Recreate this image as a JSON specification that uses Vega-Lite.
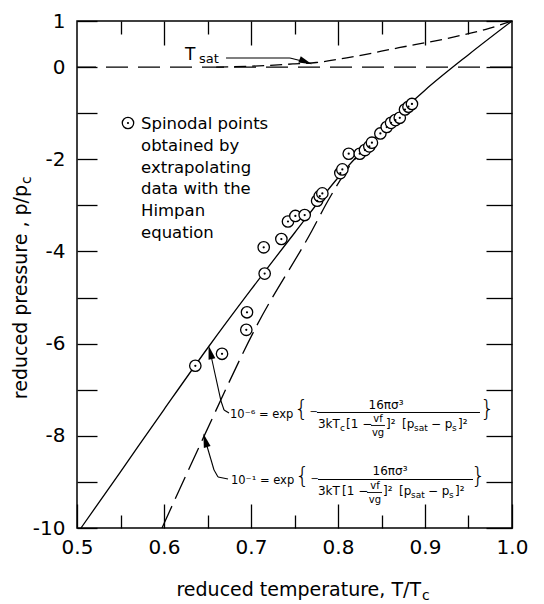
{
"$schema":"https://vega.github.io/schema/vega-lite/v6.json",
"width":435,"height":507,
"autosize":{"type":"none"},
"padding":{"left":77,"top":21,"right":32,"bottom":76},
"background":"white",
"data":{"values":[{}]},
"config":{
 "view":{"stroke":"black","strokeWidth":1.5},
 "font":"DejaVu Sans",
 "axis":{"domain":false,"grid":false,"tickColor":"black","tickWidth":1.3,"labelColor":"black","labelFont":"DejaVu Sans","labelFontSize":20,"labelFlush":false,"labelOverlap":false,"labelBound":false},
 "text":{"font":"DejaVu Sans","color":"black"}
},
"datasets":{
 "solid":[{"T":0.5046,"p":-10},{"T":0.55,"p":-8.78},{"T":0.6,"p":-7.43},{"T":0.65,"p":-6.1},{"T":0.7,"p":-4.83},{"T":0.75,"p":-3.6},{"T":0.8,"p":-2.4},{"T":0.85,"p":-1.38},{"T":0.9,"p":-0.5},{"T":0.95,"p":0.27},{"T":1.0,"p":1.0}],
 "dashed":[{"T":0.5977,"p":-10},{"T":0.645,"p":-8.05},{"T":0.7069,"p":-5.6},{"T":0.77,"p":-3.55},{"T":0.7885,"p":-2.9},{"T":0.8172,"p":-2.05},{"T":0.84,"p":-1.6},{"T":0.86,"p":-1.22}],
 "tsat":[{"T":0.66,"p":0.0},{"T":0.7,"p":0.02},{"T":0.75,"p":0.07},{"T":0.775,"p":0.1},{"T":0.81,"p":0.2},{"T":0.87,"p":0.42},{"T":0.93,"p":0.64},{"T":0.97,"p":0.82},{"T":1.0,"p":1.0}],
 "points":[{"T":0.636,"p":-6.48},{"T":0.6667,"p":-6.22},{"T":0.6946,"p":-5.7},{"T":0.6954,"p":-5.32},{"T":0.7157,"p":-4.48},{"T":0.7146,"p":-3.91},{"T":0.7349,"p":-3.73},{"T":0.7425,"p":-3.35},{"T":0.751,"p":-3.23},{"T":0.7617,"p":-3.21},{"T":0.776,"p":-2.9},{"T":0.779,"p":-2.8},{"T":0.782,"p":-2.74},{"T":0.8027,"p":-2.3},{"T":0.805,"p":-2.22},{"T":0.8123,"p":-1.88},{"T":0.825,"p":-1.88},{"T":0.831,"p":-1.8},{"T":0.836,"p":-1.72},{"T":0.839,"p":-1.64},{"T":0.8487,"p":-1.44},{"T":0.856,"p":-1.3},{"T":0.861,"p":-1.21},{"T":0.866,"p":-1.15},{"T":0.871,"p":-1.1},{"T":0.877,"p":-0.92},{"T":0.881,"p":-0.86},{"T":0.885,"p":-0.8}]
},
"layer":[
 {"mark":{"type":"rule","color":"black","strokeWidth":1.2,"strokeDash":[22,10]},
  "encoding":{"y":{"datum":0,"axis":null}}},
 {"data":{"name":"solid"},"mark":{"type":"line","color":"black","strokeWidth":1.3,"interpolate":"monotone"},
  "encoding":{
   "x":{"field":"T","type":"quantitative","scale":{"domain":[0.5,1.0],"nice":false,"zero":false},"axis":{"orient":"bottom","values":[0.5,0.6,0.7,0.8,0.9,1.0],"tickSize":-24,"labelPadding":33,"labelExpr":"format(datum.value,'.1f')","title":null}},
   "y":{"field":"p","type":"quantitative","scale":{"domain":[-10,1],"nice":false,"zero":false},"axis":{"orient":"left","values":[1,0,-1,-2,-3,-4,-5,-6,-7,-8,-9,-10],"tickSize":-20,"labelPadding":32,"labelExpr":"datum.value == 1 || datum.value % 2 == 0 ? ('' + datum.value) : ''","title":null}}}},
 {"data":{"name":"dashed"},"mark":{"type":"line","color":"black","strokeWidth":1.3,"interpolate":"monotone","strokeDash":[24,8]},
  "encoding":{
   "x":{"field":"T","type":"quantitative","scale":{"domain":[0.5,1.0],"nice":false,"zero":false},"axis":{"orient":"bottom","values":[0.55,0.65,0.75,0.85,0.95],"tickSize":-13,"labels":false,"title":null}},
   "y":{"field":"p","type":"quantitative","scale":{"domain":[-10,1],"nice":false,"zero":false},"axis":{"orient":"right","values":[1,0,-1,-2,-3,-4,-5,-6,-7,-8,-9,-10],"tickSize":-26,"labels":false,"title":null}}}},
 {"data":{"name":"tsat"},"mark":{"type":"line","color":"black","strokeWidth":1.3,"interpolate":"monotone","strokeDash":[12,6]},
  "encoding":{
   "x":{"field":"T","type":"quantitative","scale":{"domain":[0.5,1.0],"nice":false,"zero":false},"axis":{"orient":"top","values":[0.6,0.7,0.8,0.9],"tickSize":-24,"labels":false,"title":null}},
   "y":{"field":"p","type":"quantitative","axis":null}}},
 {"data":{"name":"points"},"mark":{"type":"point","shape":"circle","filled":false,"fill":"white","fillOpacity":1,"stroke":"black","strokeWidth":1.3,"size":130,"opacity":1},
  "encoding":{
   "x":{"field":"T","type":"quantitative","scale":{"domain":[0.5,1.0],"nice":false,"zero":false},"axis":{"orient":"top","values":[0.55,0.65,0.75,0.85,0.95],"tickSize":-13,"labels":false,"title":null}},
   "y":{"field":"p","type":"quantitative","axis":null}}},
 {"data":{"name":"points"},"mark":{"type":"point","shape":"circle","filled":true,"color":"black","size":5,"opacity":1},
  "encoding":{"x":{"field":"T","type":"quantitative","axis":null},"y":{"field":"p","type":"quantitative","axis":null}}},

 {"mark":{"type":"point","shape":"circle","filled":false,"fill":"white","fillOpacity":1,"stroke":"black","strokeWidth":1.3,"size":130,"opacity":1},
  "encoding":{"x":{"datum":0.5586,"axis":null},"y":{"datum":-1.213,"axis":null}}},
 {"mark":{"type":"point","shape":"circle","filled":true,"color":"black","size":5,"opacity":1},
  "encoding":{"x":{"datum":0.5586,"axis":null},"y":{"datum":-1.213,"axis":null}}},
 {"mark":{"type":"text","text":["Spinodal points","obtained by","extrapolating","data with the","Himpan","equation"],"align":"left","baseline":"alphabetic","fontSize":16.5,"lineHeight":21.8},
  "encoding":{"x":{"datum":0.5736,"axis":null},"y":{"datum":-1.343,"axis":null}}},

 {"mark":{"type":"text","text":"T","align":"left","baseline":"alphabetic","fontSize":17},
  "encoding":{"x":{"datum":0.6241,"axis":null},"y":{"datum":0.154,"axis":null}}},
 {"mark":{"type":"text","text":"sat","align":"left","baseline":"alphabetic","fontSize":13},
  "encoding":{"x":{"datum":0.6402,"axis":null},"y":{"datum":0.0887,"axis":null}}},
 {"mark":{"type":"rule","color":"black","strokeWidth":1.1},
  "encoding":{"x":{"datum":0.6713,"axis":null},"y":{"datum":0.197,"axis":null},"x2":{"datum":0.7448},"y2":{"datum":0.197}}},
 {"mark":{"type":"rule","color":"black","strokeWidth":1.1},
  "encoding":{"x":{"datum":0.7448,"axis":null},"y":{"datum":0.197,"axis":null},"x2":{"datum":0.7632},"y2":{"datum":0.11}}},
 {"mark":{"type":"point","shape":"M0,-1L0.45,0.8L-0.45,0.8Z","filled":true,"color":"black","size":220,"angle":112,"opacity":1},
  "encoding":{"x":{"datum":0.7621,"axis":null},"y":{"datum":0.12,"axis":null}}},

 {"mark":{"type":"point","shape":"M0,-1L0.45,0.8L-0.45,0.8Z","filled":true,"color":"black","size":240,"angle":-14,"opacity":1},
  "encoding":{"x":{"datum":0.6534,"axis":null},"y":{"datum":-6.203,"axis":null}}},
 {"mark":{"type":"rule","color":"black","strokeWidth":1.1},
  "encoding":{"x":{"datum":0.6534,"axis":null},"y":{"datum":-6.203,"axis":null},"x2":{"datum":0.6655},"y2":{"datum":-7.245}}},
 {"mark":{"type":"rule","color":"black","strokeWidth":1.1},
  "encoding":{"x":{"datum":0.6655,"axis":null},"y":{"datum":-7.245,"axis":null},"x2":{"datum":0.669},"y2":{"datum":-7.44}}},
 {"mark":{"type":"rule","color":"black","strokeWidth":1.1},
  "encoding":{"x":{"datum":0.669,"axis":null},"y":{"datum":-7.44,"axis":null},"x2":{"datum":0.6747},"y2":{"datum":-7.505}}},
 {"mark":{"type":"text","text":"10⁻⁶ = exp","align":"left","baseline":"alphabetic","fontSize":11.5},
  "encoding":{"x":{"datum":0.6759,"axis":null},"y":{"datum":-7.614,"axis":null}}},
 {"mark":{"type":"text","text":"{","align":"left","baseline":"middle","fontSize":23,"fontWeight":200},
  "encoding":{"x":{"datum":0.7494,"axis":null},"y":{"datum":-7.44,"axis":null}}},
 {"mark":{"type":"text","text":"−","align":"left","baseline":"middle","fontSize":10},
  "encoding":{"x":{"datum":0.7672,"axis":null},"y":{"datum":-7.483,"axis":null}}},
 {"mark":{"type":"rule","color":"black","strokeWidth":1},
  "encoding":{"x":{"datum":0.7758,"axis":null},"y":{"datum":-7.494,"axis":null},"x2":{"datum":0.9632},"y2":{"datum":-7.494}}},
 {"mark":{"type":"text","text":"16πσ³","align":"center","baseline":"alphabetic","fontSize":12},
  "encoding":{"x":{"datum":0.8552,"axis":null},"y":{"datum":-7.418,"axis":null}}},
 {"encoding":{"y":{"datum":-7.83,"axis":null}},
  "layer":[
   {"mark":{"type":"text","text":"3kT","align":"left","baseline":"alphabetic","fontSize":12},"encoding":{"x":{"datum":0.777,"axis":null}}},
   {"mark":{"type":"text","text":"[1 −","align":"left","baseline":"alphabetic","fontSize":12},"encoding":{"x":{"datum":0.8092,"axis":null}}},
   {"mark":{"type":"text","text":"]²","align":"left","baseline":"alphabetic","fontSize":12},"encoding":{"x":{"datum":0.8552,"axis":null}}},
   {"mark":{"type":"text","text":"[p","align":"left","baseline":"alphabetic","fontSize":12},"encoding":{"x":{"datum":0.8736,"axis":null}}},
   {"mark":{"type":"text","text":"− p","align":"left","baseline":"alphabetic","fontSize":12},"encoding":{"x":{"datum":0.9069,"axis":null}}},
   {"mark":{"type":"text","text":"]²","align":"left","baseline":"alphabetic","fontSize":12},"encoding":{"x":{"datum":0.9379,"axis":null}}}
  ]},
 {"encoding":{"y":{"datum":-7.896,"axis":null}},
  "layer":[
   {"mark":{"type":"text","text":"c","align":"left","baseline":"alphabetic","fontSize":9},"encoding":{"x":{"datum":0.8023,"axis":null}}},
   {"mark":{"type":"text","text":"sat","align":"left","baseline":"alphabetic","fontSize":9},"encoding":{"x":{"datum":0.8874,"axis":null}}},
   {"mark":{"type":"text","text":"s","align":"left","baseline":"alphabetic","fontSize":9},"encoding":{"x":{"datum":0.931,"axis":null}}}
  ]},
 {"mark":{"type":"text","text":"vf","align":"center","baseline":"alphabetic","fontSize":10},
  "encoding":{"x":{"datum":0.846,"axis":null},"y":{"datum":-7.7,"axis":null}}},
 {"mark":{"type":"text","text":"vg","align":"center","baseline":"alphabetic","fontSize":10},
  "encoding":{"x":{"datum":0.846,"axis":null},"y":{"datum":-8.004,"axis":null}}},
 {"mark":{"type":"rule","color":"black","strokeWidth":0.9},
  "encoding":{"x":{"datum":0.8379,"axis":null},"y":{"datum":-7.776,"axis":null},"x2":{"datum":0.854},"y2":{"datum":-7.776}}},
 {"mark":{"type":"text","text":"}","align":"left","baseline":"middle","fontSize":23,"fontWeight":200},
  "encoding":{"x":{"datum":0.9632,"axis":null},"y":{"datum":-7.44,"axis":null}}},

 {"mark":{"type":"point","shape":"M0,-1L0.45,0.8L-0.45,0.8Z","filled":true,"color":"black","size":240,"angle":-16,"opacity":1},
  "encoding":{"x":{"datum":0.6477,"axis":null},"y":{"datum":-8.113,"axis":null}}},
 {"mark":{"type":"rule","color":"black","strokeWidth":1.1},
  "encoding":{"x":{"datum":0.6477,"axis":null},"y":{"datum":-8.113,"axis":null},"x2":{"datum":0.6575},"y2":{"datum":-8.742}}},
 {"mark":{"type":"rule","color":"black","strokeWidth":1.1},
  "encoding":{"x":{"datum":0.6575,"axis":null},"y":{"datum":-8.742,"axis":null},"x2":{"datum":0.6621},"y2":{"datum":-8.894}}},
 {"mark":{"type":"rule","color":"black","strokeWidth":1.1},
  "encoding":{"x":{"datum":0.6621,"axis":null},"y":{"datum":-8.894,"axis":null},"x2":{"datum":0.6736},"y2":{"datum":-8.937}}},
 {"mark":{"type":"text","text":"10⁻¹ = exp","align":"left","baseline":"alphabetic","fontSize":11.5},
  "encoding":{"x":{"datum":0.677,"axis":null},"y":{"datum":-9.046,"axis":null}}},
 {"mark":{"type":"text","text":"{","align":"left","baseline":"middle","fontSize":23,"fontWeight":200},
  "encoding":{"x":{"datum":0.7506,"axis":null},"y":{"datum":-8.894,"axis":null}}},
 {"mark":{"type":"text","text":"−","align":"left","baseline":"middle","fontSize":10},
  "encoding":{"x":{"datum":0.7684,"axis":null},"y":{"datum":-8.937,"axis":null}}},
 {"mark":{"type":"rule","color":"black","strokeWidth":1},
  "encoding":{"x":{"datum":0.777,"axis":null},"y":{"datum":-8.948,"axis":null},"x2":{"datum":0.9552},"y2":{"datum":-8.948}}},
 {"mark":{"type":"text","text":"16πσ³","align":"center","baseline":"alphabetic","fontSize":12},
  "encoding":{"x":{"datum":0.8598,"axis":null},"y":{"datum":-8.85,"axis":null}}},
 {"encoding":{"y":{"datum":-9.284,"axis":null}},
  "layer":[
   {"mark":{"type":"text","text":"3kT","align":"left","baseline":"alphabetic","fontSize":12},"encoding":{"x":{"datum":0.777,"axis":null}}},
   {"mark":{"type":"text","text":"[1 −","align":"left","baseline":"alphabetic","fontSize":12},"encoding":{"x":{"datum":0.8046,"axis":null}}},
   {"mark":{"type":"text","text":"]²","align":"left","baseline":"alphabetic","fontSize":12},"encoding":{"x":{"datum":0.8517,"axis":null}}},
   {"mark":{"type":"text","text":"[p","align":"left","baseline":"alphabetic","fontSize":12},"encoding":{"x":{"datum":0.8701,"axis":null}}},
   {"mark":{"type":"text","text":"− p","align":"left","baseline":"alphabetic","fontSize":12},"encoding":{"x":{"datum":0.9034,"axis":null}}},
   {"mark":{"type":"text","text":"]²","align":"left","baseline":"alphabetic","fontSize":12},"encoding":{"x":{"datum":0.9345,"axis":null}}}
  ]},
 {"encoding":{"y":{"datum":-9.349,"axis":null}},
  "layer":[
   {"mark":{"type":"text","text":"sat","align":"left","baseline":"alphabetic","fontSize":9},"encoding":{"x":{"datum":0.8839,"axis":null}}},
   {"mark":{"type":"text","text":"s","align":"left","baseline":"alphabetic","fontSize":9},"encoding":{"x":{"datum":0.9276,"axis":null}}}
  ]},
 {"mark":{"type":"text","text":"vf","align":"center","baseline":"alphabetic","fontSize":10},
  "encoding":{"x":{"datum":0.8425,"axis":null},"y":{"datum":-9.154,"axis":null}}},
 {"mark":{"type":"text","text":"vg","align":"center","baseline":"alphabetic","fontSize":10},
  "encoding":{"x":{"datum":0.8425,"axis":null},"y":{"datum":-9.458,"axis":null}}},
 {"mark":{"type":"rule","color":"black","strokeWidth":0.9},
  "encoding":{"x":{"datum":0.8333,"axis":null},"y":{"datum":-9.23,"axis":null},"x2":{"datum":0.8506},"y2":{"datum":-9.23}}},
 {"mark":{"type":"text","text":"}","align":"left","baseline":"middle","fontSize":23,"fontWeight":200},
  "encoding":{"x":{"datum":0.9529,"axis":null},"y":{"datum":-8.894,"axis":null}}},

 {"mark":{"type":"text","text":"reduced temperature, T/T","align":"right","baseline":"alphabetic","fontSize":19},
  "encoding":{"x":{"datum":0.8954,"axis":null},"y":{"datum":-11.475,"axis":null}}},
 {"mark":{"type":"text","text":"c","align":"left","baseline":"alphabetic","fontSize":14},
  "encoding":{"x":{"datum":0.8966,"axis":null},"y":{"datum":-11.562,"axis":null}}},
 {"mark":{"type":"text","text":"reduced pressure , p/p","angle":270,"align":"right","baseline":"alphabetic","fontSize":19},
  "encoding":{"x":{"datum":0.4425,"axis":null},"y":{"datum":-2.558,"axis":null}}},
 {"mark":{"type":"text","text":"c","angle":270,"align":"left","baseline":"alphabetic","fontSize":14},
  "encoding":{"x":{"datum":0.4471,"axis":null},"y":{"datum":-2.537,"axis":null}}}
],
"resolve":{"axis":{"x":"independent","y":"independent"}}
}
